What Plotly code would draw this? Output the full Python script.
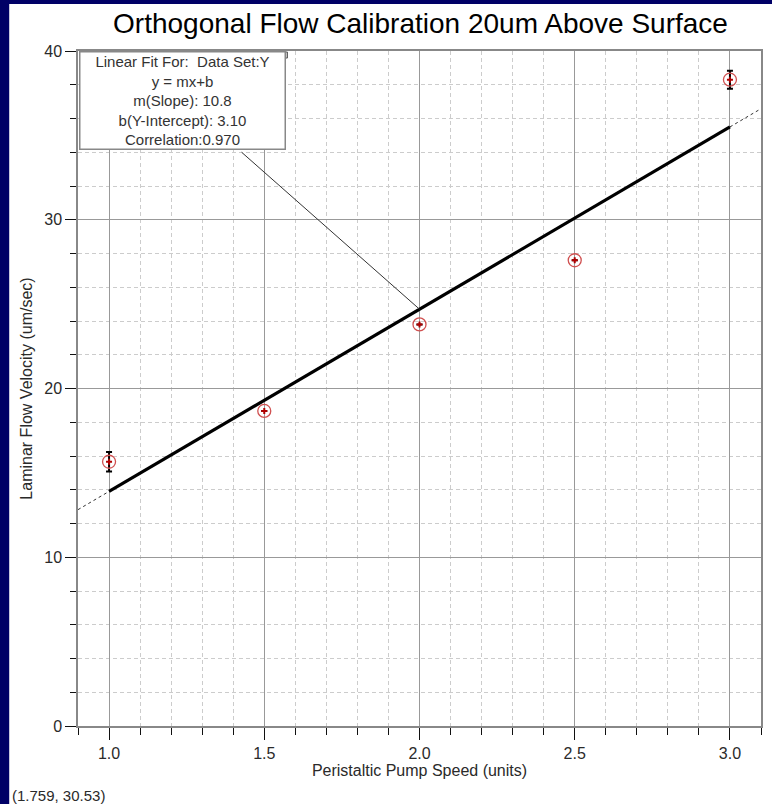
import plotly.graph_objects as go

# ---- data ----
pump_speed = [1.0, 1.5, 2.0, 2.5, 3.0]
velocity = [15.66, 18.67, 23.80, 27.60, 38.30]
velocity_err = [0.58, 0.0, 0.0, 0.0, 0.53]
fit_slope = 10.8
fit_intercept = 3.10
fit_corr = 0.970
x_ticks = [1.0, 1.5, 2.0, 2.5, 3.0]
y_ticks = [0, 10, 20, 30, 40]
x_range = [0.9, 3.1]
y_range = [0, 40]
leader_start = (1.427, 34.0)
cursor_text = "(1.759, 30.53)"

FONT = "Arial, Liberation Sans, sans-serif"
TXT = "#2a2a2a"

fig = go.Figure()

# dotted fit extension across full range
fig.add_trace(go.Scatter(
    x=x_range, y=[fit_slope * v + fit_intercept for v in x_range],
    mode="lines", line=dict(color="#333333", width=1, dash="dot"),
    hoverinfo="skip", showlegend=False))
# thick fit line over data range
fig.add_trace(go.Scatter(
    x=[pump_speed[0], pump_speed[-1]],
    y=[fit_slope * pump_speed[0] + fit_intercept, fit_slope * pump_speed[-1] + fit_intercept],
    mode="lines", line=dict(color="black", width=3.2),
    hoverinfo="skip", showlegend=False))
# data points with error bars
fig.add_trace(go.Scatter(
    x=pump_speed, y=velocity, mode="markers",
    marker=dict(symbol="circle-open", size=13, color="#d05050", line=dict(width=1.3)),
    error_y=dict(type="data", array=velocity_err, visible=True, color="black", thickness=2, width=3),
    showlegend=False))
fig.add_trace(go.Scatter(
    x=pump_speed, y=velocity, mode="markers",
    marker=dict(symbol="cross", size=5, color="#b00000", line=dict(width=0)),
    showlegend=False))

# leader line from fit box to fit line
fig.add_shape(type="line", xref="x", yref="y",
              x0=leader_start[0], y0=leader_start[1],
              x1=2.0, y1=fit_slope * 2.0 + fit_intercept,
              line=dict(color="#333333", width=1))

# white page over navy background
fig.add_shape(type="rect", xref="paper", yref="paper",
              x0=-0.1007, x1=1.05, y0=-0.2, y1=1.0696,
              fillcolor="white", line=dict(width=0), layer="below")

# fit box
box_text = ("Linear Fit For:  Data Set:Y<br>y = mx+b<br>"
            f"m(Slope): {fit_slope:.1f}<br>b(Y-Intercept): {fit_intercept:.2f}<br>"
            f"Correlation:{fit_corr:.3f}")
fig.add_annotation(xref="paper", yref="paper", x=0.0015, y=1.0,
                   xanchor="left", yanchor="top", showarrow=False,
                   text=box_text, align="center",
                   font=dict(family=FONT, size=15, color="#333333"),
                   bgcolor="white", bordercolor="#888888", borderwidth=1.5,
                   width=204, height=96, borderpad=0)
fig.add_shape(type="rect", xref="paper", yref="paper",
              x0=0.2978, x1=0.3066, y0=0.9896, y1=0.9985,
              fillcolor="#cccccc", line=dict(color="#555555", width=1))

# cursor readout
fig.add_annotation(xref="paper", yref="paper", x=-0.099, y=-0.1026, xanchor="left",
                   yanchor="middle", showarrow=False, text=cursor_text,
                   font=dict(family=FONT, size=15, color=TXT))

fig.update_layout(
    width=772, height=804,
    margin=dict(l=78, r=9, t=51, b=78),
    paper_bgcolor="#000066", plot_bgcolor="white",
    title=dict(text="Orthogonal Flow Calibration 20um Above Surface",
               x=(78 + 763) / 2 / 772, xanchor="center", y=1 - 23 / 804, yanchor="middle",
               font=dict(family=FONT, size=28, color="black")),
    font=dict(family=FONT, size=15, color=TXT),
)
fig.update_xaxes(
    range=x_range, tickvals=x_ticks, ticktext=[f"{v:.1f}" for v in x_ticks],
    ticks="outside", ticklen=12, tickcolor="#111111", tickwidth=1,
    showgrid=True, gridcolor="#999999", gridwidth=1,
    showline=True, linecolor="#888888", linewidth=2, mirror=True,
    zeroline=False,
    minor=dict(dtick=0.1, tick0=0.9, ticks="outside", ticklen=7, tickcolor="#111111",
               showgrid=True, gridcolor="#cccccc", griddash="4px,3px", gridwidth=1),
    title=dict(text="Peristaltic Pump Speed (units)", font=dict(size=16, color=TXT), standoff=4),
    tickfont=dict(size=16, color=TXT),
)
fig.update_yaxes(
    range=y_range, tickvals=y_ticks,
    ticks="outside", ticklen=11, tickcolor="#111111", tickwidth=1,
    showgrid=True, gridcolor="#999999", gridwidth=1,
    showline=True, linecolor="#888888", linewidth=1.5, mirror=True,
    zeroline=False,
    minor=dict(dtick=2, tick0=0, ticks="outside", ticklen=6, tickcolor="#111111",
               showgrid=True, gridcolor="#cccccc", griddash="4px,3px", gridwidth=1),
    title=dict(text="Laminar Flow Velocity (um/sec)", font=dict(size=16, color=TXT), standoff=8),
    tickfont=dict(size=16, color=TXT),
)

fig.write_html("out.html", config={"displayModeBar": False},
               post_script="document.body.style.margin='0';document.body.style.overflow='hidden';")
